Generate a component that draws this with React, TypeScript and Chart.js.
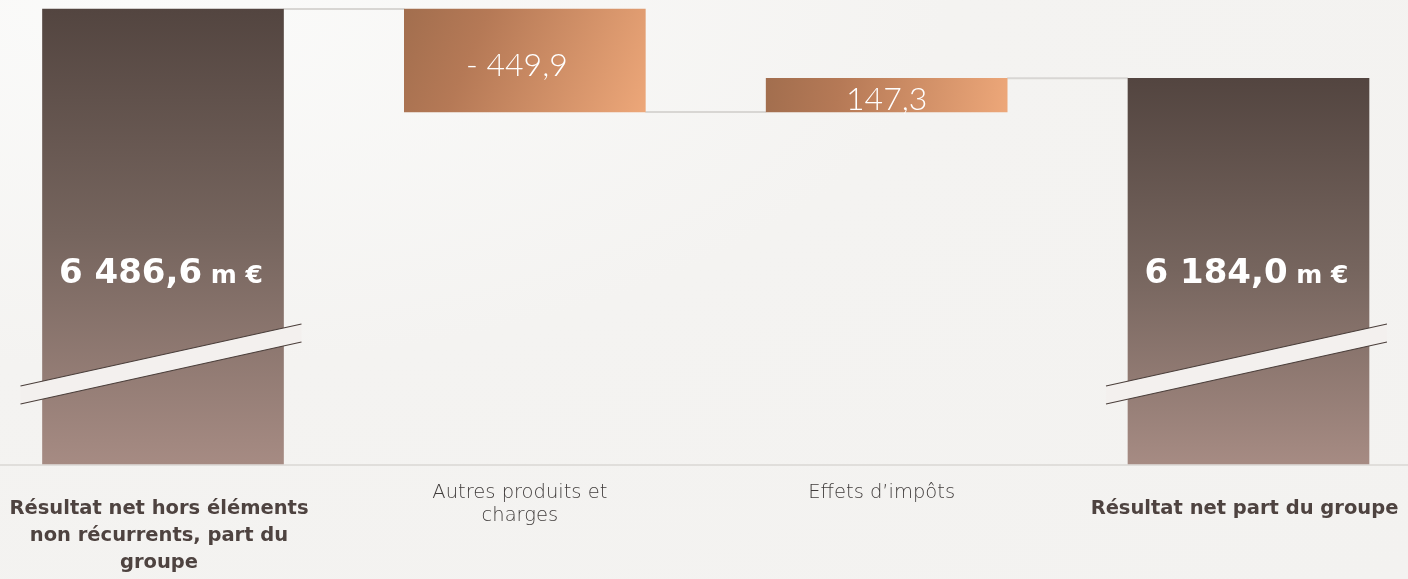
import React, { useEffect, useRef } from "react";
import { Chart, registerables } from "chart.js";

Chart.register(...registerables);

// ---- data ----
const categoryLines: string[][] = [
  ["Résultat net hors éléments", "non récurrents, part du", "groupe"],
  ["Autres produits et", "charges"],
  ["Effets d’impôts"],
  ["Résultat net part du groupe"],
];
const values: number[] = [6486.6, -449.9, 147.3, 6184.0];
const kinds: string[] = ["total", "delta", "delta", "total"];
const axisMin = 4500;
const axisMax = 6486.6;

// ---- derived ranges for floating bars ----
const ranges: number[][] = [];
const levels: number[] = [];
{
  let run = 0;
  values.forEach((v, i) => {
    if (kinds[i] === "total") {
      ranges.push([axisMin, v]);
      run = v;
    } else {
      const s = run;
      run = run + v;
      ranges.push([Math.min(s, run), Math.max(s, run)]);
    }
    levels.push(run);
  });
}

function fr(v: number): string {
  const s = Math.abs(v).toFixed(1);
  const [a, b] = s.split(".");
  const int = a.replace(/\B(?=(\d{3})+(?!\d))/g, " ");
  return int + "," + b;
}

const BG = "#f4f3f1";
const BOLD_FONT = "'DejaVu Sans'";

export default function App() {
  const ref = useRef<HTMLCanvasElement | null>(null);

  useEffect(() => {
    document.body.style.margin = "0";
    const canvas = ref.current;
    if (!canvas) return;

    const waterfallPlugin = {
      id: "waterfallDeco",
      beforeDatasetsDraw(chart: any) {
        const ctx = chart.ctx;
        const meta = chart.getDatasetMeta(0);
        const y = chart.scales.y;
        ctx.save();
        // baseline
        ctx.strokeStyle = "#e0dedb";
        ctx.lineWidth = 2;
        ctx.beginPath();
        const by = Math.round(y.getPixelForValue(axisMin)) + 1;
        ctx.moveTo(0, by);
        ctx.lineTo(chart.width, by);
        ctx.stroke();
        // connectors
        ctx.strokeStyle = "#d8d6d3";
        ctx.lineWidth = 2;
        for (let i = 0; i < meta.data.length - 1; i++) {
          const a = meta.data[i].getProps(["x", "width"], true);
          const b = meta.data[i + 1].getProps(["x", "width"], true);
          const ly = y.getPixelForValue(levels[i]);
          ctx.beginPath();
          ctx.moveTo(a.x + a.width / 2, ly);
          ctx.lineTo(b.x - b.width / 2, ly);
          ctx.stroke();
        }
        ctx.restore();
      },
      afterDatasetsDraw(chart: any) {
        const ctx = chart.ctx;
        const meta = chart.getDatasetMeta(0);
        const area = chart.chartArea;
        ctx.save();
        meta.data.forEach((bar: any, i: number) => {
          const p = bar.getProps(["x", "y", "base", "width"], true);
          if (kinds[i] === "total") {
            // axis break marks
            const cx = p.x - 2;
            const cy = area.bottom - 100;
            const hw = 140.5;
            const rise = 31;
            const gap = 9;
            ctx.fillStyle = "#f3f0ee";
            ctx.beginPath();
            ctx.moveTo(cx - hw, cy - gap + rise);
            ctx.lineTo(cx + hw, cy - gap - rise);
            ctx.lineTo(cx + hw, cy + gap - rise);
            ctx.lineTo(cx - hw, cy + gap + rise);
            ctx.closePath();
            ctx.fill();
            ctx.strokeStyle = "#4a3e3a";
            ctx.lineWidth = 1.1;
            ctx.beginPath();
            ctx.moveTo(cx - hw, cy - gap + rise);
            ctx.lineTo(cx + hw, cy - gap - rise);
            ctx.moveTo(cx - hw, cy + gap + rise);
            ctx.lineTo(cx + hw, cy + gap - rise);
            ctx.stroke();
            // total label
            const big = fr(values[i]);
            const small = " m €";
            ctx.fillStyle = "#ffffff";
            ctx.textBaseline = "alphabetic";
            ctx.font = `bold 34px ${BOLD_FONT}`;
            const w1 = ctx.measureText(big).width;
            ctx.font = `bold 25px ${BOLD_FONT}`;
            const w2 = ctx.measureText(small).width;
            const x0 = p.x - (w1 + w2) / 2 - 2;
            const ty = area.bottom - 181;
            ctx.textAlign = "left";
            ctx.font = `bold 34px ${BOLD_FONT}`;
            ctx.fillText(big, x0, ty);
            ctx.font = `bold 25px ${BOLD_FONT}`;
            ctx.fillText(small, x0 + w1, ty);
          } else {
            const v = values[i];
            const txt = v < 0 ? "- " + fr(v) : fr(v);
            ctx.fillStyle = "#ffffff";
            ctx.font = "300 32px Lato";
            ctx.textAlign = "center";
            ctx.textBaseline = "middle";
            const top = Math.min(p.y, p.base);
            const bot = Math.max(p.y, p.base);
            ctx.fillText(txt, p.x - (v < 0 ? 8 : 0), (top + bot) / 2 + 5);
          }
          // category labels
          const lines = categoryLines[i];
          const bold = kinds[i] === "total";
          ctx.textAlign = "center";
          ctx.textBaseline = "middle";
          if (bold) {
            ctx.font = `bold 19.5px ${BOLD_FONT}`;
            ctx.fillStyle = "#4e4340";
            lines.forEach((ln, k) => ctx.fillText(ln, p.x - 4, 509 + k * 27));
          } else {
            ctx.font = "200 19.5px 'DejaVu Sans'";
            ctx.fillStyle = "#403c3b";
            lines.forEach((ln, k) => ctx.fillText(ln, p.x - 5, 493 + k * 23));
          }
        });
        ctx.restore();
      },
    };

    const chart = new Chart(canvas, {
      type: "bar",
      data: {
        labels: categoryLines.map((l) => l.join(" ")),
        datasets: [
          {
            data: ranges as any,
            barThickness: 241,
            borderWidth: 0,
            clip: false,
            backgroundColor: (c: any) => {
              const ch = c.chart;
              const i = c.dataIndex;
              const ys = ch.scales?.y;
              const xs = ch.scales?.x;
              if (!ys || !xs || !ch.chartArea) return "#8a7169";
              const r = ranges[i];
              const top = ys.getPixelForValue(r[1]);
              const bot = ys.getPixelForValue(r[0]);
              const cx = xs.getPixelForValue(i);
              const ctx = ch.ctx;
              if (kinds[i] === "total") {
                const g = ctx.createLinearGradient(0, top, 0, bot);
                g.addColorStop(0, "#534540");
                g.addColorStop(0.5, "#76655e");
                g.addColorStop(1, "#a68b83");
                return g;
              }
              const g = ctx.createLinearGradient(cx - 120, top, cx + 120, bot);
              g.addColorStop(0, "#a26e4e");
              g.addColorStop(0.3, "#b57956");
              g.addColorStop(1, "#eda779");
              return g;
            },
          },
        ],
      },
      options: {
        animation: false,
        responsive: true,
        maintainAspectRatio: false,
        layout: { padding: { top: 9, bottom: 115, left: 163, right: 159.5 } },
        plugins: { legend: { display: false }, tooltip: { enabled: false } },
        scales: {
          x: { display: false, offset: false, grid: { display: false } },
          y: { display: false, min: axisMin, max: axisMax, grid: { display: false } },
        },
      },
      plugins: [waterfallPlugin],
    } as any);

    return () => chart.destroy();
  }, []);

  return (
    <div style={{ width: 1408, height: 579, position: "relative", background: `radial-gradient(ellipse at 10% 0%, #fbfbfa 0%, ${BG} 45%, #f3f2f0 100%)` }}>
      <canvas ref={ref} />
    </div>
  );
}
